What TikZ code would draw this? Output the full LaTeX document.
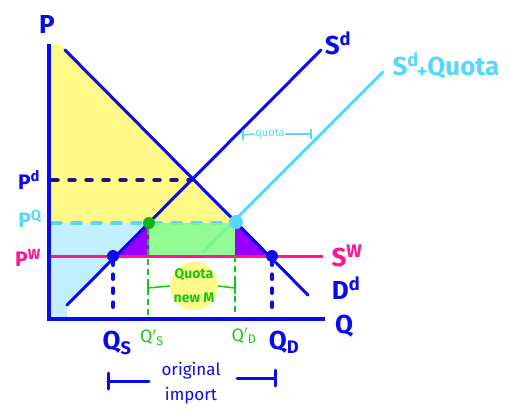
\documentclass[tikz,border=0pt]{standalone}
\usepackage{fontspec}
\setmainfont{Fira Sans}
\definecolor{myblue}{RGB}{10,10,240}
\definecolor{navy}{RGB}{25,25,125}
\definecolor{ylw}{RGB}{255,250,135}
\definecolor{lblue}{RGB}{195,240,255}
\definecolor{cyanq}{RGB}{85,215,255}
\definecolor{grn}{RGB}{128,250,128}
\definecolor{grntxt}{RGB}{20,200,20}
\definecolor{gdotc}{RGB}{20,175,20}
\definecolor{purp}{RGB}{150,0,250}
\definecolor{pnk}{RGB}{255,20,150}
\begin{document}
\begin{tikzpicture}[x=1pt,y=-1pt,
  thickline/.style={line width=3pt, line cap=round},
  biglab/.style={inner sep=0pt, font=\bfseries\fontsize{26}{26}\selectfont},
  midlab/.style={inner sep=0pt, font=\bfseries\fontsize{21}{21}\selectfont},
  grnlab/.style={inner sep=0pt, text=grntxt, font=\fontsize{18}{18}\selectfont},
  dotnode/.style={circle, inner sep=0pt, minimum size=12pt},
  vdash/.style={line width=3.5pt, line cap=round, dash pattern=on 5pt off 9pt, myblue},
  gdash/.style={line width=1.5pt, dash pattern=on 6pt off 4pt, grntxt},
  tick/.style={line width=3pt, myblue, line cap=round}]
\useasboundingbox (0,0) rectangle (509,410);

% coordinates
\coordinate (ytop) at (49,44);
\coordinate (orig) at (49,319);
\coordinate (xend) at (325,319);
\coordinate (dtop) at (65,50);
\coordinate (dbot) at (308,295);
\coordinate (sbot) at (67,305);
\coordinate (stop) at (321,50);
\coordinate (sqbot) at (203,252);
\coordinate (sqtop) at (383,72);
\coordinate (pwl) at (49,256);
\coordinate (pwr) at (323,256);
\coordinate (pdl) at (52,180);
\coordinate (pdr) at (192,180);
\coordinate (pql) at (52,223);
\coordinate (pqr) at (236,223);

% fills
\fill[ylw] (49,44) -- (58,44) to[out=0,in=135] (dtop) -- (238,223) -- (49,223) -- cycle;
\fill[lblue] (49,223) -- (149,223) -- (67,305) -- (67,319) -- (49,319) -- cycle;
\draw[line width=3.5pt, cyanq, line cap=round, dash pattern=on 9pt off 11pt] (pql) -- (pqr);
\draw[thickline, cyanq] (sqbot) -- (sqtop);
\fill[grn, opacity=0.85] (149,223) rectangle (235,256);
\fill[purp] (116,256) -- (149,223) -- (149,256) -- cycle;
\fill[purp] (235,223) -- (271,256) -- (235,256) -- cycle;

% lines
\draw[line width=3pt, pnk] (pwl) -- (pwr);
\draw[line width=3.5pt, navy, line cap=round, dash pattern=on 6pt off 11pt] (pdl) -- (pdr);
\draw[thickline, myblue] (dtop) -- (dbot);
\draw[thickline, myblue] (sbot) -- (stop);
\draw[line width=3.5pt, myblue] (ytop) -- (orig) -- (xend);

% dots
\node[dotnode, fill=gdotc] (gdot) at (149,223) {};
\node[dotnode, fill=cyanq, minimum size=14pt] (cdot) at (236,222) {};
\node[dotnode, fill=myblue] (qsdot) at (113,256) {};
\node[dotnode, fill=myblue] (qddot) at (272,256) {};

% vertical dashed lines
\coordinate (qsax) at (113,312);
\coordinate (qdax) at (272,312);
\coordinate (qs1top) at (148,229);
\coordinate (qs1ax) at (148,317);
\coordinate (qd1top) at (235,256);
\coordinate (qd1ax) at (235,314);
\draw[vdash] (qsdot.south) ++(0,-2) -- (qsax);
\draw[vdash] (qddot.south) ++(0,-2) -- (qdax);
\draw[gdash] (qs1top) -- (qs1ax);
\draw[gdash] (qd1top) -- (qd1ax);

% quota new M
\node[circle, fill=ylw, minimum size=48pt, inner sep=0pt] (circ) at (194,286) {};
\node[inner sep=0pt, text=grntxt, font=\bfseries\fontsize{14}{14}\selectfont] (qtxt) at (194,275) {Quota};
\node[inner sep=0pt, text=grntxt, font=\bfseries\fontsize{14}{14}\selectfont] (ntxt) at (194,298) {new M};
\coordinate (gbl) at (148,288);
\coordinate (gbr) at (235,288);
\draw[line width=1.5pt, grntxt] (gbl) -- (circ.west);
\draw[line width=1.5pt, grntxt] (circ.east) -- (gbr);
\draw[line width=1.5pt, grntxt] (148,282) -- (148,294);
\draw[line width=1.5pt, grntxt] (235,282) -- (235,294);

% quota bracket
\node[inner sep=0pt, text=cyanq, font=\fontsize{11}{11}\selectfont] (qlab) at (270,134) {quota};
\coordinate (qbl) at (243,135);
\coordinate (qbr) at (311,134);
\draw[line width=1.3pt, cyanq] (qbl) -- (qlab.west);
\draw[line width=1.3pt, cyanq] (qlab.east) -- (qbr);
\draw[line width=1.3pt, cyanq] (243,130) -- (243,140);
\draw[line width=1.3pt, cyanq] (311,129) -- (311,139);

% original import
\node[inner sep=0pt, text=myblue, font=\fontsize{17}{17}\selectfont] (orig1) at (191,371) {original};
\node[inner sep=0pt, text=myblue, font=\fontsize{17}{17}\selectfont] (orig2) at (191,396) {import};
\coordinate (oil) at (108,381);
\coordinate (oir) at (275,378);
\draw[tick] (oil) -- (149,381);
\draw[tick] (237,378) -- (oir);
\draw[tick] (108,373) -- (108,389);
\draw[tick] (275,370) -- (275,386);

% labels
\node[biglab, text=myblue] (Plab) at (47,24) {P};
\node[biglab, text=myblue] (Qlab) at (344,326) {Q};
\node[midlab, text=myblue] (Pdlab) at (29,180) {P\textsuperscript{d}};
\node[midlab, text=cyanq] (Pqlab) at (30,219) {P\textsuperscript{Q}};
\node[midlab, text=pnk] (Pwlab) at (28,258) {P\textsuperscript{W}};
\node[biglab, text=myblue] (Qslab) at (117,343) {Q\textsubscript{S}};
\node[biglab, text=myblue] (Qdlab) at (284,342) {Q\textsubscript{D}};
\node[grnlab] (Qs1lab) at (152,338) {Q$'$\textsubscript{S}};
\node[grnlab] (Qd1lab) at (244,336) {Q$'$\textsubscript{D}};
\node[biglab, text=myblue] (Ddlab) at (346,288) {D\textsuperscript{d}};
\node[biglab, text=myblue] (Sdlab) at (338,43) {S\textsuperscript{d}};
\node[biglab, text=cyanq] (Sqlab) at (446,66) {S\textsuperscript{d}\kern-2pt\raisebox{-3pt}{\fontsize{20}{20}\selectfont+}Quota};
\node[biglab, text=pnk] (Swlab) at (347,256) {S\textsuperscript{W}};
\end{tikzpicture}
\end{document}
